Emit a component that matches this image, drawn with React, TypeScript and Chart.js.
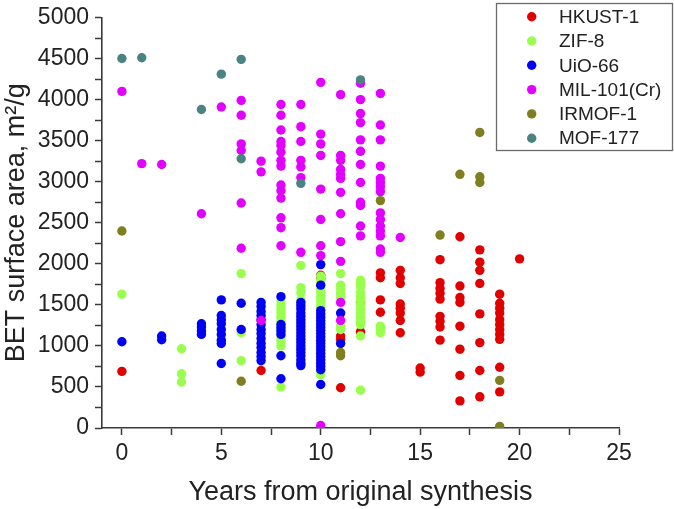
import React, { useEffect, useRef } from "react";
import { Chart, registerables } from "chart.js";

Chart.register(...registerables);

// ---------- data ----------
const seriesNames = ["HKUST-1", "ZIF-8", "UiO-66", "MIL-101(Cr)", "IRMOF-1", "MOF-177"];
const seriesColors = ["#e00000", "#99ff4d", "#0000f2", "#e200ff", "#7f7f22", "#4b8282"];

const hkust1: [number, number][] = [
  [0, 690], [7, 700], [10, 1860], [10, 1820], [11, 1120], [11, 1080], [11, 490], [12, 1530], [12, 1170],
  [13, 1890], [13, 1830], [13, 1560], [13, 1410],
  [14, 1920], [14, 1830], [14, 1760], [14, 1510], [14, 1460], [14, 1400], [14, 1310], [14, 1160],
  [15, 730], [15, 680],
  [16, 2050], [16, 1770], [16, 1700], [16, 1640], [16, 1570], [16, 1360], [16, 1300], [16, 1230], [16, 1070],
  [17, 2330], [17, 1730], [17, 1590], [17, 1530], [17, 1240], [17, 960], [17, 640], [17, 330],
  [18, 2170], [18, 2020], [18, 1920], [18, 1760], [18, 1390], [18, 1040], [18, 700], [18, 380],
  [19, 1630], [19, 1520], [19, 1460], [19, 1400], [19, 1320], [19, 1260], [19, 1200], [19, 1140], [19, 1080],
  [19, 740], [19, 440],
  [20, 2060],
];

const zif8: [number, number][] = [
  [0, 1630], [3, 965], [3, 660], [3, 560], [6, 1880], [6, 1160], [6, 820],
  [8, 1550], [8, 1500], [8, 1450], [8, 1400], [8, 1350], [8, 1300], [8, 1250], [8, 1200], [8, 1100], [8, 1050],
  [8, 1000], [8, 500],
  [9, 1980], [9, 1710], [9, 1650], [9, 1560],
  [10, 1850], [10, 1800], [10, 1750], [10, 1700], [10, 1650], [10, 1600], [10, 1550], [10, 1500], [10, 1460],
  [10, 690], [10, 650],
  [11, 1880], [11, 1740], [11, 1690], [11, 1640], [11, 1590], [11, 1240], [11, 1200],
  [12, 1800], [12, 1760], [12, 1720], [12, 1650], [12, 1600], [12, 1550], [12, 1500], [12, 1450], [12, 1400],
  [12, 1350], [12, 1300], [12, 1260], [12, 1120], [12, 460],
  [13, 1240], [13, 1200], [13, 1160],
];

const uio66: [number, number][] = [
  [0, 1050], [2, 1120], [2, 1075], [4, 1270], [4, 1230], [4, 1180], [4, 1140],
  [5, 1560], [5, 1370], [5, 1320], [5, 1270], [5, 1200], [5, 1140], [5, 1070], [5, 1030], [5, 785],
  [6, 1520], [6, 1200],
  [7, 1530], [7, 1480], [7, 1420], [7, 1370], [7, 1320], [7, 1260], [7, 1200], [7, 1150], [7, 1090], [7, 1030],
  [7, 980], [7, 920], [7, 870], [7, 820],
  [8, 1600], [8, 1260], [8, 1220], [8, 1180], [8, 1140], [8, 880], [8, 600],
  [9, 1530], [9, 1490], [9, 1450], [9, 1400], [9, 1360], [9, 1320], [9, 1280], [9, 1240], [9, 1200], [9, 1160],
  [9, 1120], [9, 1080], [9, 1040], [9, 1000], [9, 960], [9, 920], [9, 880], [9, 830], [9, 790], [9, 760],
  [10, 1990], [10, 1740], [10, 1430], [10, 1390], [10, 1350], [10, 1310], [10, 1270], [10, 1230], [10, 1190],
  [10, 1150], [10, 1110], [10, 1070], [10, 1030], [10, 990], [10, 950], [10, 910], [10, 870], [10, 830],
  [10, 790], [10, 750], [10, 710], [10, 530],
  [11, 1400], [11, 1030],
];

const mil101: [number, number][] = [
  [0, 4100], [1, 3220], [2, 3210], [4, 2610], [5, 3910],
  [6, 3990], [6, 3810], [6, 3460], [6, 3380], [6, 2740], [6, 2190],
  [7, 3250], [7, 3120], [7, 1310],
  [8, 3940], [8, 3810], [8, 3630], [8, 3490], [8, 3440], [8, 3360], [8, 3260], [8, 3190], [8, 2960], [8, 2890],
  [8, 2800], [8, 2560], [8, 2440], [8, 2220],
  [9, 3940], [9, 3670], [9, 3490], [9, 3260], [9, 3180], [9, 3050], [9, 2140],
  [10, 4210], [10, 3580], [10, 3460], [10, 3320], [10, 2910], [10, 2540], [10, 2220], [10, 2100], [10, 30],
  [11, 4060], [11, 3320], [11, 3260], [11, 3150], [11, 3090], [11, 3040], [11, 2870], [11, 2610], [11, 2270],
  [11, 2030], [11, 1530], [11, 1310],
  [12, 4200], [12, 4000], [12, 3830], [12, 3720], [12, 3510], [12, 3370], [12, 3210], [12, 2990], [12, 2750],
  [12, 2710], [12, 2460], [12, 2340],
  [13, 4075], [13, 3690], [13, 3510], [13, 3190], [13, 3040], [13, 2990], [13, 2940], [13, 2880], [13, 2620],
  [13, 2540], [13, 2460], [13, 2400], [13, 2340], [13, 2180], [13, 2140],
  [14, 2320],
];

const irmof1: [number, number][] = [
  [0, 2400], [6, 570], [11, 920], [11, 880], [13, 2770], [16, 2350], [17, 3090],
  [18, 3600], [18, 3060], [18, 2990], [19, 580], [19, 20],
];

const mof177: [number, number][] = [
  [0, 4500], [1, 4510], [4, 3880], [5, 4310], [6, 4490], [6, 3280], [9, 2980], [12, 4240],
];

const seriesData = [hkust1, zif8, uio66, mil101, irmof1, mof177];

const xTitle = "Years from original synthesis";
const yTitle = "BET surface area, m\u00B2/g";

const FONT = "'Liberation Sans', Arial, Helvetica, sans-serif";

// custom in-plot legend box
const boxLegend = {
  id: "boxLegend",
  afterDraw(chart: any) {
    const ctx = chart.ctx;
    const left = 496.5, top = 3.5, w = 176, h = 147;
    ctx.save();
    ctx.fillStyle = "#ffffff";
    ctx.fillRect(left, top, w, h);
    ctx.strokeStyle = "#6a6a6a";
    ctx.lineWidth = 1.3;
    ctx.strokeRect(left, top, w, h);
    ctx.font = `19px ${FONT}`;
    ctx.textBaseline = "middle";
    ctx.textAlign = "left";
    chart.data.datasets.forEach((ds: any, i: number) => {
      const y = 16.7 + i * 24.3;
      ctx.beginPath();
      ctx.fillStyle = ds.backgroundColor;
      ctx.arc(531.7, y, 4.7, 0, Math.PI * 2);
      ctx.fill();
      ctx.fillStyle = "#222222";
      ctx.fillText(ds.label, 559, y + 1);
    });
    ctx.restore();
  },
};

export default function App() {
  const canvasRef = useRef<HTMLCanvasElement | null>(null);

  useEffect(() => {
    const canvas = canvasRef.current;
    if (!canvas) return;
    const axisColor = "#3a3a3a";
    const tickFont = { family: FONT, size: 23, lineHeight: 1.0 };
    const chart = new Chart(canvas, {
      type: "scatter",
      data: {
        datasets: seriesData.map((pts, i) => ({
          label: seriesNames[i],
          data: pts.map(([x, y]) => ({ x, y })),
          backgroundColor: seriesColors[i],
          borderColor: seriesColors[i],
          borderWidth: 0,
          pointRadius: 4.7,
          pointHoverRadius: 4.7,
          order: seriesNames.length - i,
        })),
      },
      options: {
        responsive: false,
        animation: false,
        events: [],
        layout: { padding: { left: 0, right: 55, top: 12, bottom: 0 } },
        plugins: {
          legend: { display: false },
          tooltip: { enabled: false },
        },
        scales: {
          x: {
            type: "linear",
            min: -1,
            max: 25,
            afterFit: (s: any) => {
              s.height = 81;
            },
            ticks: {
              stepSize: 2.5,
              includeBounds: false,
              autoSkip: false,
              maxRotation: 0,
              padding: 7,
              color: "#222222",
              font: tickFont,
              callback: (v: any) => (Number(v) % 5 === 0 ? String(v) : ""),
            },
            grid: {
              display: true,
              drawOnChartArea: false,
              drawTicks: true,
              tickLength: 7,
              tickColor: axisColor,
              tickWidth: 1.5,
            },
            border: { display: true, color: axisColor, width: 1.6 },
            title: {
              display: true,
              text: xTitle,
              color: "#222222",
              font: { family: FONT, size: 27 },
              padding: { top: 1, bottom: 0 },
            },
          },
          y: {
            type: "linear",
            min: 0,
            max: 5000,
            afterFit: (s: any) => {
              s.width = 102;
            },
            ticks: {
              stepSize: 250,
              autoSkip: false,
              padding: 6,
              color: "#222222",
              font: tickFont,
              callback: (v: any) => (Number(v) % 500 === 0 ? String(v) : ""),
            },
            grid: {
              display: true,
              drawOnChartArea: false,
              drawTicks: true,
              tickLength: 7,
              tickColor: axisColor,
              tickWidth: 1.5,
            },
            border: { display: true, color: axisColor, width: 1.6 },
            title: {
              display: true,
              text: yTitle,
              color: "#222222",
              font: { family: FONT, size: 27 },
              padding: { top: 0, bottom: 0 },
            },
          },
        },
      },
      plugins: [boxLegend],
    } as any);
    return () => {
      chart.destroy();
    };
  }, []);

  return (
    <div style={{ position: "fixed", left: 0, top: 0, width: 674, height: 509, background: "#ffffff" }}>
      <canvas ref={canvasRef} width={674} height={509} style={{ display: "block", width: 674, height: 509 }} />
    </div>
  );
}
